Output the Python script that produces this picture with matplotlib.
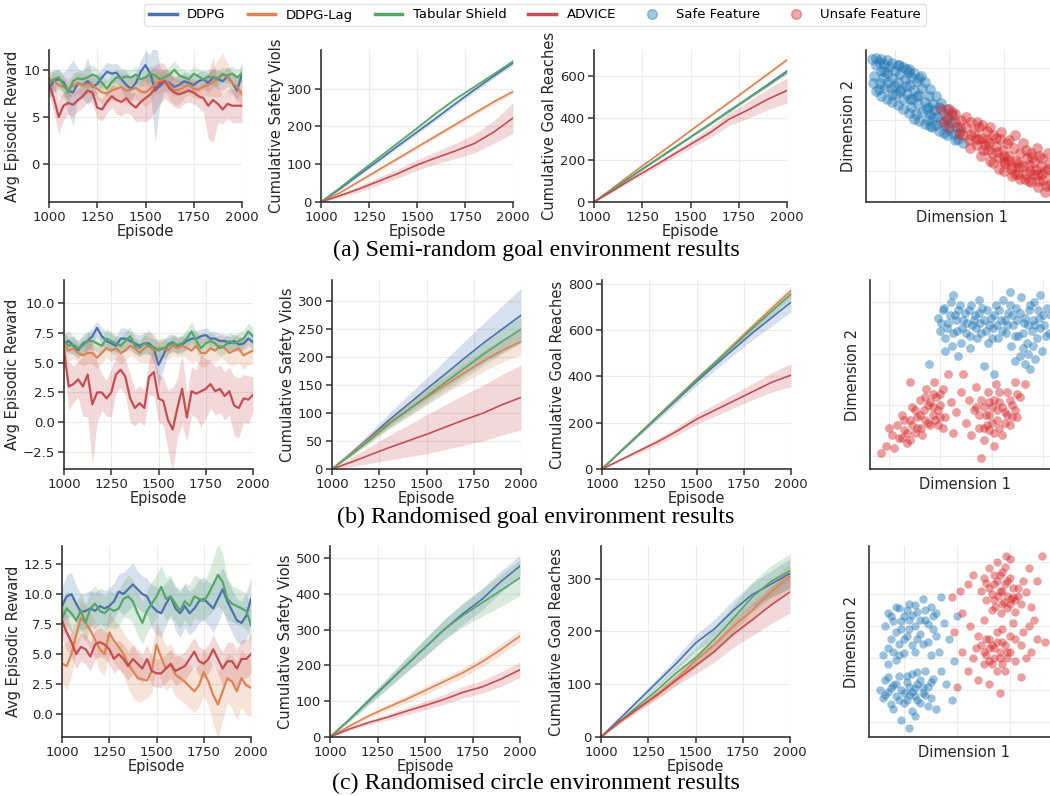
import numpy as np
import matplotlib
matplotlib.use("Agg")
import matplotlib.pyplot as plt
from matplotlib.lines import Line2D

# 颜色
col_ddpg, col_lag, col_shield, col_advice = "#4C72B0", "#DD8452", "#55A868", "#C44E52"
col_safe, col_unsafe = "#1f77b4", "#d62728"
methods = ["DDPG", "DDPG-Lag", "Tabular Shield", "ADVICE"]
colors = [col_ddpg, col_lag, col_shield, col_advice]

# 奖励曲线 (每25个episode一个点)
reward_episodes = np.arange(1000, 2001, 25)

# (a) semi-random goal
a_rew = [
    [8.0,8.8,9.0,8.7,7.8,7.6,8.6,8.4,8.8,8.2, 8.5,9.2,9.8,9.6,9.7,9.0,8.4,8.0,8.6,9.8,
     10.5,9.6,7.8,8.3,8.8,8.6,8.2,8.4,8.8,8.6, 8.4,8.8,9.0,8.6,9.2,9.0,8.8,9.3,8.6,7.8, 9.6],
    [9.0,8.8,8.4,8.2,8.0,8.3,8.6,8.4,8.5,8.3, 8.0,7.6,7.5,7.8,8.0,8.2,7.8,7.9,8.1,7.7,
     7.6,8.0,8.5,8.8,8.9,8.4,7.8,7.9,8.2,8.4, 8.0,7.9,8.2,8.4,8.7,9.1,9.6,9.2,8.6,8.2, 7.4],
    [8.5,9.0,9.2,8.4,7.6,8.8,9.1,9.0,9.2,9.5, 9.3,8.6,8.0,8.7,9.2,9.1,9.3,9.2,9.5,9.0,
     9.2,9.6,9.4,9.0,9.2,9.5,10.0,9.4,9.2,9.0, 9.6,9.3,9.0,9.3,9.2,9.1,9.5,9.4,9.6,9.2, 9.6],
    [8.5,7.0,5.0,6.2,6.5,6.3,6.8,7.2,7.8,7.6, 6.0,5.8,6.6,7.2,6.8,6.6,7.0,6.4,6.0,6.6,
     7.0,7.4,8.0,8.6,8.8,8.0,7.6,7.4,7.6,7.8, 7.6,7.2,7.0,6.2,6.8,6.4,5.8,6.4,6.2,6.2, 6.2],
]
a_rew_sd = [
    [1.0,1.2,1.0,1.0,2.5,3.5,1.5,1.5,2.5,1.2, 1.0,1.0,1.0,1.0,1.0,1.2,1.5,1.2,1.0,1.2,
     1.5,2.0,5.5,2.0,1.0,1.0,1.0,1.0,1.0,1.0, 1.0,1.0,1.0,1.0,1.0,1.0,1.0,1.0,1.0,1.2, 1.2],
    [1.0,1.0,1.2,1.2,1.0,1.0,1.2,1.2,1.0,1.0, 1.2,1.2,1.2,1.0,1.0,1.5,1.5,1.2,1.2,1.2,
     1.5,1.5,1.2,1.2,1.2,1.5,1.5,1.5,1.2,1.0, 1.0,1.0,1.0,1.2,1.5,2.0,2.2,1.5,1.2,1.2, 1.5],
    [1.2,1.0,0.9,0.9,1.0,0.9,0.8,0.9,1.2,1.0, 0.8,0.8,0.9,0.8,0.8,0.8,0.8,0.8,0.9,0.8,
     0.8,0.8,0.8,0.8,0.8,0.9,1.0,0.9,0.8,0.8, 0.8,0.8,0.8,0.8,0.8,0.8,0.8,0.8,0.8,0.8, 0.8],
    [1.0,1.5,1.8,1.5,1.2,1.2,1.2,1.2,1.2,1.2, 1.2,1.2,1.2,1.2,1.5,1.5,1.5,1.2,1.5,2.0,
     2.5,2.5,2.5,2.2,1.8,1.5,1.5,1.5,1.2,1.2, 1.2,1.2,1.5,3.5,4.5,2.0,1.5,1.5,1.8,1.8, 1.8],
]

# (b) randomised goal
b_rew = [
    [6.6,6.8,6.4,6.0,6.6,6.8,7.2,7.9,7.2,6.8, 6.6,6.4,7.0,7.0,6.8,6.6,6.4,6.6,6.6,6.2,
     4.8,5.6,6.5,6.7,6.4,6.5,6.8,7.0,7.0,7.2, 7.3,7.0,7.0,6.8,6.8,6.6,6.8,6.5,6.6,7.0, 6.7],
    [6.5,6.0,6.2,5.8,5.6,5.8,5.8,5.4,5.8,6.2, 6.0,6.2,5.8,6.0,6.4,6.2,5.8,6.2,6.4,6.0,
     6.2,6.2,6.0,6.4,6.2,6.4,6.2,6.0,6.4,5.8, 5.8,6.2,6.0,6.4,6.2,5.8,6.0,6.2,5.6,5.8, 6.0],
    [6.8,6.4,6.5,6.2,6.4,6.8,6.8,6.6,6.4,7.0, 6.8,6.6,6.4,6.8,7.2,6.4,6.2,6.6,6.4,6.3,
     6.0,6.2,6.4,6.6,6.5,6.6,7.0,7.6,6.8,6.2, 6.6,6.8,6.6,6.2,6.4,6.8,6.6,6.8,7.0,7.6, 7.2],
    [6.0,3.0,3.2,3.6,3.0,4.0,1.5,2.5,2.5,2.0, 2.5,4.0,4.4,3.8,2.0,1.2,1.6,1.2,3.8,4.2,
     2.0,1.8,0.2,-0.6,1.2,2.8,0.4,2.6,2.4,2.6, 2.8,3.2,2.6,2.8,2.2,2.6,1.4,1.2,2.0,1.9, 2.3],
]
b_rew_sd = [
    [0.8,0.8,0.8,0.7,0.8,0.8,0.7,0.6,0.7,0.8, 0.8,0.8,0.9,0.9,0.8,0.8,0.9,0.9,0.9,1.2,
     1.8,1.2,0.8,0.7,0.7,0.7,0.7,0.7,0.7,0.6, 0.6,0.6,0.6,0.6,0.6,0.6,0.6,0.6,0.6,0.6, 0.6],
    [0.8,0.9,0.8,0.8,0.9,0.9,0.9,0.9,0.8,0.8, 0.9,0.9,0.9,0.8,0.8,0.8,0.8,1.2,1.4,1.0,
     0.8,0.8,0.8,0.8,0.8,0.8,0.9,1.0,1.2,1.2, 1.2,1.0,1.0,1.0,1.0,1.0,1.2,1.2,1.2,1.0, 1.0],
    [0.8,0.7,0.7,0.7,0.7,0.7,0.7,0.7,0.7,0.8, 0.8,0.7,0.7,0.8,0.8,0.7,0.7,0.7,0.7,0.7,
     0.8,0.8,0.7,0.7,0.7,0.7,0.8,0.8,0.8,0.9, 0.8,0.7,0.7,0.7,0.7,0.7,0.7,0.7,0.7,0.7, 0.7],
    [0.5,2.0,1.5,1.5,2.5,3.5,5.0,2.5,1.5,1.5, 2.0,1.5,1.5,1.5,2.0,1.5,1.5,1.5,1.5,2.0,
     2.0,2.0,2.5,3.5,2.5,3.0,2.0,2.0,2.0,3.0, 2.5,2.0,2.0,2.0,2.0,2.0,2.5,2.5,2.0,2.0, 1.5],
]

# (c) randomised circle
c_rew = [
    [9.0,9.8,10.0,9.2,8.5,8.6,8.8,8.6,9.0,8.8, 9.0,9.4,10.2,10.0,10.4,10.8,10.4,10.0,9.8,9.0,
     8.6,8.4,9.2,9.8,8.8,8.4,9.0,8.4,8.8,9.4, 9.6,9.2,8.8,9.6,10.4,9.4,8.6,7.8,7.6,8.2, 9.6],
    [4.2,4.0,5.0,6.6,8.0,7.6,7.0,6.2,5.4,5.0, 6.8,6.1,5.6,5.0,4.2,3.6,3.0,2.9,2.8,3.6,
     5.8,4.7,3.8,4.1,3.3,3.0,2.7,2.3,1.9,2.4, 3.5,2.7,1.6,0.8,1.9,3.0,2.7,1.9,3.0,2.4, 2.2],
    [8.0,8.8,8.4,7.8,8.6,7.6,8.8,9.2,8.6,8.4, 8.8,8.6,8.8,9.6,9.8,9.4,8.4,7.6,8.6,9.2,
     9.8,10.6,9.6,9.8,9.2,8.6,9.4,9.0,9.8,9.6, 9.4,10.0,10.8,11.6,11.0,9.6,9.2,9.0,8.8,8.6, 7.4],
    [7.8,6.8,6.0,5.0,5.6,5.4,4.8,5.8,6.0,5.8, 5.4,4.6,5.0,4.6,4.0,4.6,4.2,3.8,4.6,3.6,
     3.4,3.4,3.8,4.2,3.6,3.8,4.0,4.6,5.2,4.4, 4.2,4.6,5.4,4.6,3.8,4.4,4.4,3.8,4.6,4.6, 5.0],
]
c_rew_sd = [
    [1.5,1.8,1.8,1.5,1.5,1.5,1.5,1.5,1.5,1.5, 1.5,1.5,1.5,1.8,1.8,1.8,1.5,1.5,1.5,1.8,
     2.0,2.0,1.8,1.5,1.8,2.0,1.8,1.8,1.8,1.8, 1.8,1.8,2.0,2.0,1.8,1.8,1.8,1.8,1.8,2.0, 1.8],
    [1.5,2.0,1.8,1.5,1.5,1.5,1.5,1.5,1.8,1.8, 1.8,1.8,1.8,1.8,2.0,2.2,2.0,1.8,1.5,1.8,
     2.0,2.0,1.8,1.8,1.8,1.8,1.8,1.8,1.8,1.8, 2.0,2.0,2.4,2.8,2.4,2.0,2.2,2.4,2.4,2.4, 2.4],
    [1.5,1.5,1.5,1.5,1.5,1.5,1.5,1.5,1.5,1.5, 1.5,1.5,1.5,1.5,1.8,1.8,1.8,1.8,1.8,1.8,
     1.8,1.8,1.8,1.8,1.5,1.5,1.5,1.8,1.8,1.8, 1.5,1.8,2.2,2.6,2.4,1.8,1.5,1.5,1.5,1.5, 1.5],
    [1.5,1.5,1.2,1.2,1.2,1.2,1.2,1.2,1.2,1.2, 1.2,1.2,1.2,1.2,1.2,1.2,1.2,1.2,1.2,1.2,
     1.2,1.2,1.2,1.2,1.2,1.2,1.2,1.2,1.2,1.2, 1.2,1.2,1.2,1.2,1.4,1.6,1.6,1.6,1.6,1.6, 1.6],
]

# 累计曲线 (每100个episode一个点)
cum_episodes = np.arange(1000, 2001, 100)

a_viol = [[0,35,73,110,148,185,222,260,297,333,368],
          [0,25,55,85,115,145,175,205,235,265,292],
          [0,38,78,117,156,195,235,272,305,338,372],
          [0,17,35,55,75,98,117,135,155,185,222]]
a_viol_sd = [[0,3,4,5,5,6,6,6,6,6,6],
             [0,3,4,5,5,6,6,6,6,6,6],
             [0,3,4,5,5,6,6,6,6,6,6],
             [0,5,8,10,12,14,16,20,25,30,40]]
a_goal = [[0,62,125,187,248,310,372,435,497,560,625],
          [0,68,138,205,272,340,408,475,542,610,678],
          [0,63,126,188,250,310,370,432,495,555,618],
          [0,55,112,165,220,275,330,395,440,490,532]]
a_goal_sd = [[0,2,3,4,5,5,6,6,7,7,8],
             [0,2,3,4,5,5,6,6,7,7,8],
             [0,2,3,4,5,5,6,6,7,7,8],
             [0,5,8,12,15,18,25,30,40,50,60]]

b_viol = [[0,28,57,87,115,143,170,198,225,250,275],
          [0,27,55,82,105,128,150,172,193,212,228],
          [0,25,52,80,105,130,155,180,205,228,250],
          [0,12,25,38,50,62,75,88,100,115,128]]
b_viol_sd = [[0,4,8,12,16,20,25,30,35,42,48],
             [0,3,6,9,11,13,15,17,19,21,23],
             [0,3,6,9,12,14,16,18,20,22,25],
             [0,8,15,22,28,35,40,45,50,54,58]]
b_goal = [[0,76,152,228,302,378,450,520,590,655,720],
          [0,78,155,232,310,388,462,540,618,695,770],
          [0,78,155,232,308,385,460,535,610,683,755],
          [0,40,80,120,165,215,255,295,335,375,405]]
b_goal_sd = [[0,4,8,12,15,18,22,25,30,36,42],
             [0,3,5,7,9,11,13,15,17,18,20],
             [0,3,5,7,9,11,13,15,17,18,20],
             [0,6,10,14,18,22,26,30,35,42,50]]

c_viol = [[0,48,100,150,200,250,300,345,385,435,478],
          [0,30,58,82,105,130,155,180,210,245,282],
          [0,47,98,148,200,250,300,340,375,410,445],
          [0,22,40,55,72,88,105,125,140,162,188]]
c_viol_sd = [[0,5,10,15,20,25,28,30,30,30,30],
             [0,4,6,8,10,11,12,13,14,15,16],
             [0,5,10,15,20,25,28,32,38,45,50],
             [0,4,6,8,10,12,14,16,18,20,22]]
c_goal = [[0,35,70,105,140,178,205,240,270,290,310],
          [0,28,55,82,110,145,175,210,240,275,305],
          [0,30,60,90,122,150,185,225,265,295,315],
          [0,30,55,80,108,135,162,195,222,250,275]]
c_goal_sd = [[0,3,5,8,12,15,18,20,22,25,28],
             [0,3,5,7,10,12,15,18,20,22,25],
             [0,3,6,9,13,18,22,25,28,30,32],
             [0,3,5,8,10,15,20,25,30,35,40]]

# 特征散点 (x, y)
a_safe = [(-0.42,2.18),(-0.35,2.05),(-0.30,2.12),(-0.25,1.95),(-0.38,1.85),(-0.20,2.08),(-0.15,1.90),
          (-0.10,2.02),(-0.05,1.80),(-0.28,1.70),(-0.18,1.62),(-0.40,1.70),(0.00,1.95),(0.05,1.72),
          (0.10,1.88),(0.12,1.60),(0.18,1.78),(0.22,1.50),(0.25,1.92),(0.28,1.68),(0.32,1.40),
          (0.35,1.58),(0.40,1.75),(0.42,1.30),(0.45,1.48),(0.50,1.62),(0.55,1.35),(0.58,1.20),
          (0.62,1.45),(0.65,1.10),(0.70,1.30),(0.72,1.18),(0.78,1.05),(0.80,1.25),(0.85,0.95),
          (0.88,1.12),(0.92,0.88),(0.95,1.02),(1.00,0.80),(1.02,0.95),(1.08,0.72),(1.12,0.85),
          (1.15,0.62),(1.20,0.78),(1.25,0.55),(-0.08,1.62),(0.02,1.50),(-0.30,1.60),(0.15,1.40),
          (0.30,1.25),(-0.22,1.80),(0.08,2.05),(0.38,1.10),(0.60,1.00),(0.75,0.90),(0.48,1.85),
          (-0.12,1.72),(0.20,1.98),(0.68,0.85),(0.95,0.70),
          (-0.35,2.20),(-0.25,2.18),(-0.15,2.15),(-0.05,2.10),(0.05,2.05),(0.15,2.02),(0.25,1.98),
          (0.35,1.90),(0.45,1.80),(0.55,1.72),(0.65,1.60),(0.75,1.45),(0.85,1.32),(0.95,1.20),
          (1.05,1.08),(-0.35,1.55),(-0.25,1.45),(-0.15,1.40),(-0.05,1.35),(0.05,1.28),(0.15,1.20),
          (0.25,1.12),(0.35,1.02),(0.45,0.98),(0.55,0.92),(0.65,0.88),(0.80,0.78),(0.90,0.74),
          (1.10,0.60),(0.00,1.65),(0.20,1.65),(0.40,1.45),(0.60,1.25),(-0.20,1.95),(0.30,1.82),
          (0.10,1.55),(0.50,1.15),(0.70,1.05),(-0.05,1.48),(0.27,1.40)]
a_unsafe = [(0.85,1.20),(0.95,1.05),(1.00,0.85),(1.05,1.15),(1.10,0.95),(1.18,0.72),(1.22,1.00),
            (1.30,0.85),(1.35,0.60),(1.40,0.95),(1.45,0.75),(1.50,0.50),(1.55,0.85),(1.60,0.65),
            (1.62,0.40),(1.68,0.78),(1.72,0.55),(1.78,0.35),(1.80,0.70),(1.85,0.48),(1.90,0.25),
            (1.92,0.62),(1.98,0.40),(2.02,0.15),(2.05,0.55),(2.10,0.30),(2.12,0.05),(2.18,0.45),
            (2.22,0.20),(2.25,-0.05),(2.30,0.35),(2.35,0.10),(2.38,-0.15),(2.42,0.25),(2.48,0.00),
            (2.50,-0.22),(2.55,0.18),(2.60,-0.08),(2.62,-0.30),(2.68,0.10),(2.72,-0.18),(2.75,-0.40),
            (2.80,0.05),(2.85,-0.25),(2.90,-0.10),(1.25,0.70),(1.48,0.62),(1.65,0.50),(1.88,0.38),
            (2.08,0.22),(2.28,0.08),(2.45,0.12),(2.58,0.02),(2.70,-0.05),(1.75,0.20),(2.00,0.00),
            (2.40,-0.05),(1.38,0.45),(2.15,-0.10),(2.65,0.30),
            (0.90,0.95),(1.00,1.20),(1.10,1.10),(1.20,0.85),(1.30,1.05),(1.40,0.70),(1.50,0.95),
            (1.55,0.62),(1.60,0.90),(1.70,0.40),(1.75,0.85),(1.85,0.65),(1.95,0.75),(2.00,0.30),
            (2.10,0.60),(2.20,0.70),(2.25,0.15),(2.35,0.55),(2.40,0.40),(2.50,0.35),(2.55,-0.05),
            (2.60,0.45),(2.70,0.25),(2.75,0.00),(2.80,0.35),(2.85,0.15),(2.90,-0.30),(2.95,0.05),
            (2.65,-0.20),(2.45,-0.20),(2.30,-0.15),(2.20,-0.05),(2.00,0.20),(1.80,0.15),(1.58,0.30),
            (1.90,0.05),(2.15,0.10),(2.52,0.28),(2.78,-0.28),(1.68,0.60)]

b_safe = [(0.95,2.70),(1.00,2.45),(1.05,2.85),(1.10,2.30),(1.15,2.60),(1.20,3.00),(1.22,2.15),
          (1.28,2.75),(1.32,2.45),(1.38,2.95),(1.40,2.20),(1.45,2.65),(1.50,2.40),(1.55,2.85),
          (1.58,2.10),(1.62,2.55),(1.68,2.75),(1.72,2.30),(1.78,2.60),(1.82,2.90),(1.88,2.45),
          (1.92,2.20),(1.98,2.70),(2.02,2.50),(2.08,2.95),(2.12,2.30),(2.18,2.65),(2.22,3.05),
          (2.28,2.40),(2.32,2.80),(2.38,2.15),(2.42,2.55),(2.48,2.90),(2.52,2.35),(2.58,3.10),
          (2.62,2.60),(2.68,2.20),(2.72,2.85),(2.78,2.45),(2.82,3.00),(2.88,2.30),(2.92,2.70),
          (2.98,2.05),(3.02,2.55),(3.08,2.90),(3.12,2.40),(2.55,1.95),(2.65,1.80),(2.75,1.70),
          (2.45,1.85),(1.35,1.95),(1.10,2.05),(2.85,1.90),(1.75,3.05),(2.35,3.20),(1.60,2.95),
          (3.15,2.75),(1.85,1.75),(0.78,1.80),(2.05,1.60),
          (1.02,2.60),(1.08,2.90),(1.12,2.50),(1.18,2.75),(1.25,2.40),(1.30,2.65),(1.35,2.85),
          (1.42,2.50),(1.48,2.80),(1.52,2.60),(1.58,2.35),(1.65,2.65),(1.70,2.50),(1.75,2.80),
          (1.80,2.40),(1.85,2.65),(1.90,2.85),(1.95,2.55),(2.00,2.30),(2.05,2.75),(2.10,2.55),
          (2.15,2.85),(2.20,2.45),(2.25,2.65),(2.30,2.55),(2.35,2.95),(2.40,2.75),(2.45,2.35),
          (2.50,2.65),(2.55,2.80),(2.60,2.40),(2.65,2.70),(2.70,2.55),(2.75,2.95),(2.80,2.65),
          (2.85,2.55),(2.90,2.85),(2.95,2.50),(3.00,2.75),(3.05,2.35),(2.60,2.10),(2.70,2.00),
          (2.80,2.15),(1.25,3.15),(2.95,3.15)]
b_unsafe = [(-0.15,0.05),(-0.05,0.20),(0.05,0.40),(0.10,0.15),(0.15,0.60),(0.20,0.35),(0.25,0.80),
            (0.30,0.50),(0.35,0.25),(0.40,0.70),(0.45,0.95),(0.50,0.45),(0.55,0.75),(0.60,1.10),
            (0.62,0.55),(0.68,0.90),(0.72,1.30),(0.75,0.65),(0.80,1.05),(0.85,0.80),(0.88,1.45),
            (0.92,1.15),(0.95,0.60),(1.00,1.00),(1.05,1.30),(1.10,0.75),(1.15,1.60),(1.20,1.05),
            (1.30,0.85),(1.40,1.25),(1.50,0.65),(1.55,1.10),(1.60,0.40),(1.65,0.90),(1.70,1.35),
            (1.75,0.55),(1.80,1.10),(1.85,0.30),(1.88,0.80),(1.92,1.25),(1.95,0.50),(2.00,0.95),
            (2.05,0.20),(2.08,1.40),(2.10,0.70),(2.15,1.05),(2.20,0.40),(2.25,0.85),(2.30,1.25),
            (2.35,0.60),(2.40,1.00),(2.45,1.45),(2.50,0.75),(2.55,1.15),(1.80,-0.05),(1.45,1.60),
            (0.40,1.45),(2.65,1.40),(1.25,0.45),(0.00,0.55),
            (0.60,0.80),(0.70,0.70),(0.75,1.00),(0.80,0.60),(0.85,0.95),(0.90,0.70),(0.95,0.90),
            (1.00,0.75),(1.05,0.55),(0.65,0.40),(0.55,0.55),(0.45,0.60),(0.35,0.45),(0.25,0.35),
            (0.30,0.70),(0.70,1.15),(0.85,1.20),(1.00,1.20),(0.50,0.90),(0.40,0.30),
            (1.75,0.80),(1.85,0.95),(1.90,0.60),(1.95,0.80),(2.00,0.65),(2.05,1.10),(2.10,0.90),
            (2.15,0.55),(2.20,0.95),(2.25,0.65),(2.30,0.80),(2.35,1.10),(2.40,0.75),(2.45,0.90),
            (2.50,1.20),(1.95,1.05),(2.05,0.45),(1.85,0.55),(2.15,1.25),(1.70,0.95)]

circ_safe = [(-0.45,1.00),(-0.40,0.75),(-0.35,1.30),(-0.30,0.95),(-0.25,0.55),(-0.20,1.15),(-0.15,0.80),
             (-0.10,1.45),(-0.05,1.00),(0.00,0.60),(0.05,1.25),(0.10,0.85),(0.15,1.50),(0.20,1.05),
             (0.25,0.70),(0.30,1.30),(0.35,0.90),(0.40,1.60),(0.45,1.10),(0.50,0.75),(-0.30,1.80),
             (-0.20,2.20),(-0.25,2.60),(-0.15,1.95),(-0.10,2.45),(-0.05,2.90),(0.00,2.15),(0.05,2.70),
             (0.10,3.20),(-0.35,3.00),(-0.30,3.40),(-0.20,3.15),(-0.10,3.55),(0.00,3.30),(0.10,3.70),
             (0.15,2.40),(0.20,3.00),(0.25,3.45),(0.30,2.75),(0.35,3.85),(0.40,3.20),(0.45,2.50),
             (0.50,3.60),(0.55,2.90),(0.60,3.40),(0.65,2.20),(0.70,1.60),(0.75,3.10),(0.80,1.20),
             (0.85,2.60),(0.90,0.70),(0.95,1.90),(1.00,3.30),(0.60,0.40),(0.20,0.20),(-0.05,0.05),
             (0.10,-0.20),(0.70,3.90),(-0.40,2.10),(0.55,1.35),
             (-0.35,0.85),(-0.25,1.05),(-0.15,1.20),(-0.10,0.70),(0.00,0.90),(0.05,0.70),(0.10,1.10),
             (0.15,0.95),(0.20,0.80),(0.25,1.20),(0.30,0.60),(0.35,1.10),(0.40,0.85),(0.05,1.45),
             (-0.20,0.40),(0.15,0.35),(-0.30,1.40),(0.50,1.25),(0.45,0.50),(0.25,1.55),
             (-0.25,3.30),(-0.15,2.80),(-0.05,3.15),(0.05,3.50),(0.10,2.90),(0.15,3.35),(0.20,3.65),
             (0.25,2.60),(0.30,3.20),(0.40,3.50),(0.45,3.05),(0.55,3.30),(-0.15,3.60),(0.00,2.60),
             (0.35,2.45),(0.60,2.70),(-0.30,2.30),(0.20,2.20),(-0.10,2.10),(0.50,2.10)]
circ_unsafe = [(1.50,4.50),(1.60,4.80),(1.70,4.30),(1.75,5.00),(1.80,4.60),(1.85,4.10),(1.90,4.85),
               (1.95,4.40),(2.00,5.10),(2.05,3.90),(1.55,3.80),(1.65,4.00),(1.72,3.60),(1.78,3.95),
               (1.82,3.40),(1.88,3.75),(1.95,3.55),(2.02,3.85),(2.10,3.45),(2.15,4.20),(2.20,3.70),
               (2.30,4.05),(2.40,3.60),(2.50,4.40),(2.60,5.20),(2.45,3.20),(1.30,4.60),(1.20,4.30),
               (1.05,4.10),(0.90,3.90),(1.45,2.40),(1.55,2.10),(1.60,2.60),(1.65,1.80),(1.70,2.30),
               (1.75,2.80),(1.80,2.00),(1.85,2.50),(1.90,1.60),(1.95,2.20),(2.00,2.70),(2.10,1.90),
               (2.20,2.40),(2.30,2.00),(2.50,2.60),(2.65,2.50),(1.30,2.00),(1.20,1.60),(1.10,2.20),
               (1.40,1.30),(1.60,1.20),(1.80,0.90),(2.20,1.40),(1.00,1.10),(1.25,3.00),(1.10,3.40),
               (2.35,3.00),(0.95,2.80),(1.50,3.20),(2.05,3.10),
               (1.60,4.20),(1.70,3.80),(1.75,4.40),(1.80,4.10),(1.85,3.70),(1.90,4.30),(1.95,3.95),
               (2.00,4.50),(2.05,4.20),(2.10,3.80),(1.70,4.60),(1.85,4.70),(2.00,3.70),(1.65,3.50),
               (2.15,3.95),(1.55,4.35),(1.92,5.20),(2.25,4.40),(1.45,4.10),(2.35,4.80),
               (1.50,2.20),(1.55,2.60),(1.60,1.90),(1.65,2.40),(1.70,2.00),(1.75,2.50),(1.80,2.20),
               (1.85,1.80),(1.90,2.40),(1.95,2.00),(1.60,2.30),(1.75,1.60),(1.50,1.80),(2.00,2.20),
               (1.40,2.70),(2.10,2.60),(1.85,2.90),(1.35,2.30),(2.25,2.80),(2.40,2.20)]

captions = ["(a) Semi-random goal environment results",
            "(b) Randomised goal environment results",
            "(c) Randomised circle environment results"]

# 样式
plt.rcParams.update({
    "font.family": "DejaVu Sans",
    "font.size": 10,
    "axes.edgecolor": "#333333",
    "axes.linewidth": 1.2,
    "axes.labelcolor": "#262626",
    "xtick.color": "#333333",
    "ytick.color": "#333333",
    "xtick.labelcolor": "#262626",
    "ytick.labelcolor": "#262626",
    "xtick.labelsize": 9.5,
    "ytick.labelsize": 9.5,
    "axes.labelsize": 10.5,
    "xtick.major.size": 4,
    "ytick.major.size": 4,
    "xtick.major.width": 1.1,
    "ytick.major.width": 1.1,
    "xtick.major.pad": 2.5,
    "ytick.major.pad": 2.5,
})

W, H = 1050, 796
fig = plt.figure(figsize=(W / 100, H / 100), dpi=100)


def add_ax(x0, x1, ytop, ybot):
    ax = fig.add_axes([x0 / W, 1 - ybot / H, (x1 - x0) / W, (ybot - ytop) / H])
    ax.spines["top"].set_visible(False)
    ax.spines["right"].set_visible(False)
    ax.grid(True, color="#ebebeb", linewidth=0.8)
    ax.set_axisbelow(True)
    return ax


def curve_panel(ax, xs, means, sds, ylabel, ylim, yticks, lw):
    for m, s, c in zip(means, sds, colors):
        m = np.array(m, dtype=float)
        s = np.array(s, dtype=float)
        ax.fill_between(xs, m - s, m + s, color=c, alpha=0.22, linewidth=0)
        ax.plot(xs, m, color=c, linewidth=lw)
    ax.set_xlim(1000, 2000)
    ax.set_xticks([1000, 1250, 1500, 1750, 2000])
    ax.set_ylim(*ylim)
    ax.set_yticks(yticks)
    ax.set_xlabel("Episode", labelpad=0)
    ax.set_ylabel(ylabel, labelpad=2)


def scatter_panel(ax, safe, unsafe, xlim, ylim, xgrid, ygrid, size):
    sx, sy = zip(*safe)
    ux, uy = zip(*unsafe)
    ax.scatter(sx, sy, s=size, color=col_safe, alpha=0.45, linewidths=0)
    ax.scatter(ux, uy, s=size, color=col_unsafe, alpha=0.45, linewidths=0)
    ax.set_xlim(*xlim)
    ax.set_ylim(*ylim)
    ax.set_xticks(xgrid)
    ax.set_yticks(ygrid)
    ax.set_xticklabels([])
    ax.set_yticklabels([])
    ax.tick_params(length=0)
    ax.set_xlabel("Dimension 1", labelpad=3)
    ax.set_ylabel("Dimension 2", labelpad=5)


rows = [
    dict(ytop=50, ybot=202, xs=[(49, 242), (321, 513), (594, 787), (866, 1058)],
         rew=a_rew, rew_sd=a_rew_sd, rlim=(-4, 12.1), rticks=[0, 5, 10],
         viol=a_viol, viol_sd=a_viol_sd, vlim=(0, 402), vticks=[0, 100, 200, 300],
         goal=a_goal, goal_sd=a_goal_sd, glim=(0, 725), gticks=[0, 200, 400, 600],
         safe=a_safe, unsafe=a_unsafe, sxlim=(-0.53, 2.99), sylim=(-0.6, 2.35),
         sxg=[0, 1, 2], syg=[0, 1, 2], size=60, cap_y=250),
    dict(ytop=280, ybot=469, xs=[(64, 253), (332, 521), (602, 791), (870, 1060)],
         rew=b_rew, rew_sd=b_rew_sd, rlim=(-3.9, 11.9), rticks=[-2.5, 0, 2.5, 5, 7.5, 10],
         viol=b_viol, viol_sd=b_viol_sd, vlim=(0, 338), vticks=[0, 50, 100, 150, 200, 250, 300],
         goal=b_goal, goal_sd=b_goal_sd, glim=(0, 816), gticks=[0, 200, 400, 600, 800],
         safe=b_safe, unsafe=b_unsafe, sxlim=(-0.37, 3.33), sylim=(-0.26, 3.44),
         sxg=[0, 1, 2, 3], syg=[0, 1, 2, 3], size=40, cap_y=517),
    dict(ytop=546, ybot=737, xs=[(62, 251), (330, 520), (601, 790), (869, 1060)],
         rew=c_rew, rew_sd=c_rew_sd, rlim=(-1.9, 14.0), rticks=[0, 2.5, 5, 7.5, 10, 12.5],
         viol=c_viol, viol_sd=c_viol_sd, vlim=(0, 534), vticks=[0, 100, 200, 300, 400, 500],
         goal=c_goal, goal_sd=c_goal_sd, glim=(0, 362), gticks=[0, 100, 200, 300],
         safe=circ_safe, unsafe=circ_unsafe, sxlim=(-0.66, 2.94), sylim=(-0.47, 5.5),
         sxg=[0, 1, 2], syg=[0, 1, 2, 3, 4, 5], size=36, cap_y=783),
]

for r, cap in zip(rows, captions):
    xs = r["xs"]
    ax = add_ax(xs[0][0], xs[0][1], r["ytop"], r["ybot"])
    curve_panel(ax, reward_episodes, r["rew"], r["rew_sd"], "Avg Episodic Reward",
                r["rlim"], r["rticks"], 1.6)
    ax = add_ax(xs[1][0], xs[1][1], r["ytop"], r["ybot"])
    curve_panel(ax, cum_episodes, r["viol"], r["viol_sd"], "Cumulative Safety Viols",
                r["vlim"], r["vticks"], 1.2)
    ax = add_ax(xs[2][0], xs[2][1], r["ytop"], r["ybot"])
    curve_panel(ax, cum_episodes, r["goal"], r["goal_sd"], "Cumulative Goal Reaches",
                r["glim"], r["gticks"], 1.2)
    ax = add_ax(xs[3][0], xs[3][1], r["ytop"], r["ybot"])
    scatter_panel(ax, r["safe"], r["unsafe"], r["sxlim"], r["sylim"], r["sxg"], r["syg"], r["size"])
    fig.text(536 / W, 1 - r["cap_y"] / H, cap, ha="center", va="center",
             fontsize=17.3, family="Liberation Serif", color="black")

# 图例
handles = [Line2D([], [], color=c, linewidth=2.5) for c in colors]
handles += [Line2D([], [], marker="o", linestyle="none", markersize=7, color=col_safe, alpha=0.4),
            Line2D([], [], marker="o", linestyle="none", markersize=7, color=col_unsafe, alpha=0.4)]
labels = methods + ["Safe Feature", "Unsafe Feature"]
fig.legend(handles, labels, loc="center", bbox_to_anchor=(535 / W, 1 - 15 / H), ncol=6,
           fontsize=9.5, frameon=True, edgecolor="#dddddd", fancybox=True,
           columnspacing=1.65, handlelength=2.1, borderpad=0.35)

fig.savefig("out.png", dpi=100)
